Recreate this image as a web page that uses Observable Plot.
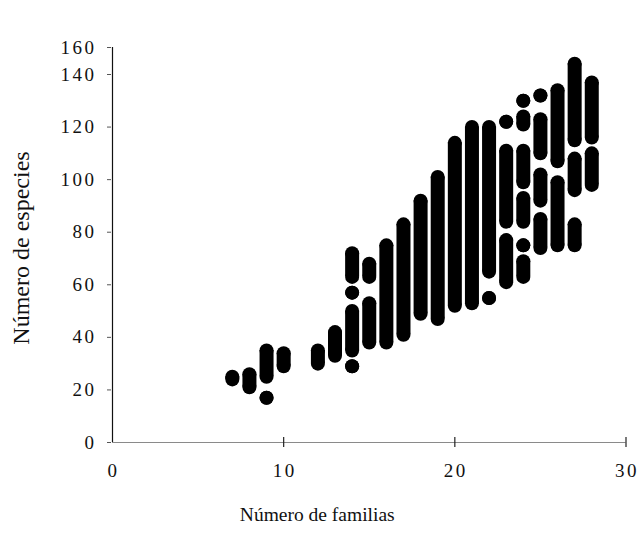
<!DOCTYPE html>
<html>
<head>
<meta charset="utf-8">
<script src="https://cdn.jsdelivr.net/npm/d3@7"></script>
<script src="https://cdn.jsdelivr.net/npm/@observablehq/plot@0.6"></script>
<style>
  html, body { margin: 0; padding: 0; background: #fff; }
  .tick-label text { letter-spacing: 2.5px; }
</style>
</head>
<body>
<div id="chart"></div>
<script>
// Each entry is one uninterrupted run of observations for a given number of
// families: the species count runs from especiesMin to especiesMax.
const familias = [
  7, 8, 9, 9, 10, 12, 13,
  14, 14, 14, 14,
  15, 15,
  16, 17, 18, 19, 20, 21,
  22, 22,
  23, 23, 23,
  24, 24, 24, 24, 24, 24,
  25, 25, 25, 25,
  26, 26,
  27, 27, 27,
  28, 28
];
const especiesMin = [
  24, 21, 25, 17, 29, 30, 33,
  63, 57, 35, 29,
  63, 38,
  38, 41, 49, 47, 52, 53,
  65, 55,
  122, 84, 61,
  130, 121, 99, 84, 75, 63,
  132, 110, 92, 74,
  107, 75,
  115, 96, 75,
  116, 98
];
const especiesMax = [
  25, 26, 35, 17, 34, 35, 42,
  72, 57, 50, 29,
  68, 53,
  75, 83, 92, 101, 114, 120,
  120, 55,
  122, 111, 77,
  130, 124, 111, 93, 75, 69,
  132, 123, 102, 85,
  134, 99,
  148, 108, 83,
  137, 110
];

const xTicks = [0, 10, 20, 30];
const yTicks = [0, 20, 40, 60, 80, 100, 120, 140, 160];

const rangos = familias.map((f, i) => ({
  familias: f,
  min: especiesMin[i],
  max: especiesMax[i]
}));

const serif = "'Liberation Serif', 'DejaVu Serif', serif";

const chart = Plot.plot({
  width: 639,
  height: 540,
  marginLeft: 112,
  marginRight: 13.5,
  marginTop: 45,
  marginBottom: 98,
  style: { fontFamily: serif, fontSize: "16px", color: "#111", background: "#fff" },
  x: { type: "linear", domain: [0, 30] },
  // the printed axis squeezes its last interval (140–160)
  y: { type: "linear", domain: [0, 140, 160], range: [442, 74, 47] },
  marks: [
    // axis lines
    Plot.ruleY([0], { stroke: "#8a8a8a", strokeWidth: 1.2 }),
    Plot.ruleX([0], { y1: 0, y2: 160, stroke: "#111", strokeWidth: 1.2 }),
    // crossing tick marks on the x axis
    Plot.ruleX(xTicks.slice(1), { x: d => d, y1: 0, y2: 0, insetTop: -5, insetBottom: -5, stroke: "#222", strokeWidth: 1.2 }),
    Plot.axisX({
      ticks: xTicks, tickSize: 0, tickPadding: 21, label: null,
      fill: "#111", fontSize: 19, className: "tick-label", dx: 1
    }),
    Plot.axisY({
      ticks: yTicks, tickSize: 4, tickPadding: 11, label: null,
      fill: "#111", stroke: "#555", fontSize: 19, className: "tick-label", dx: -1
    }),
    // observation runs: a thick bar for the body, round dots at both ends
    Plot.ruleX(rangos, { x: "familias", y1: "min", y2: "max", stroke: "#000", strokeWidth: 14 }),
    Plot.dot(rangos, { x: "familias", y: "min", r: 7, fill: "#000" }),
    Plot.dot(rangos, { x: "familias", y: "max", r: 7, fill: "#000" }),
    // axis titles
    Plot.text(["Número de especies"], {
      frameAnchor: "left", textAnchor: "middle", rotate: -90, dx: -91, dy: 4,
      fontSize: 24, fill: "#111", fontFamily: serif
    }),
    Plot.text(["Número de familias"], {
      frameAnchor: "bottom", textAnchor: "middle", dx: -52, dy: 78,
      fontSize: 19.5, fill: "#111", fontFamily: serif
    })
  ]
});

document.getElementById("chart").appendChild(chart);
</script>
</body>
</html>
